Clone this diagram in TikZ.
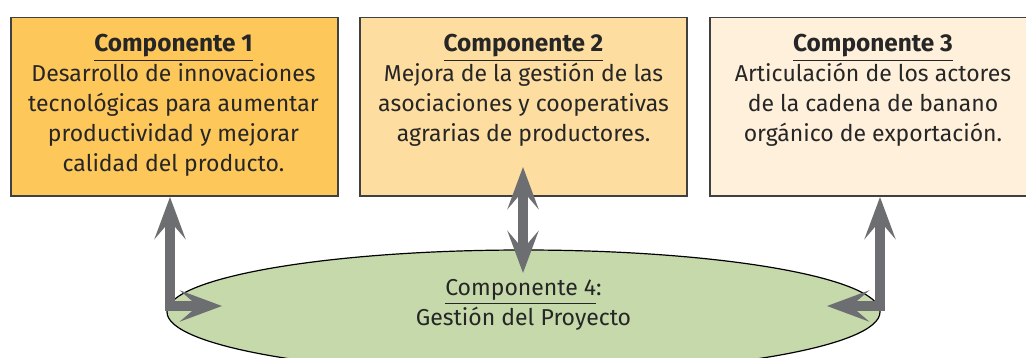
\documentclass[tikz,border=0pt]{standalone}
\usepackage{fontspec}
\setmainfont{Fira Sans}
\usetikzlibrary{arrows.meta,positioning,shapes.geometric}
\definecolor{compone}{HTML}{FDC75A}
\definecolor{comptwo}{HTML}{FDDDA0}
\definecolor{compthree}{HTML}{FEF0DA}
\definecolor{compfour}{HTML}{C6D9AB}
\definecolor{arrgray}{HTML}{6D6E71}
\definecolor{boxline}{HTML}{404040}
\newcommand{\comptitle}[1]{{\fontsize{12.2}{15}\selectfont\bfseries\underline{#1}}}

\begin{document}
\begin{tikzpicture}[x=0.5pt, y=-0.5pt,
    box/.style={draw=boxline, line width=0.75pt, minimum width=163.5pt, minimum height=89pt, inner sep=0pt, anchor=north west},
    txt/.style={align=center, font=\fontsize{11.5}{15}\selectfont, anchor=north, inner sep=0pt, text=black!85},
    arr/.style={draw=arrgray, line width=5pt, {Stealth[length=21pt,width=15.5pt,inset=9pt]}-{Stealth[length=21pt,width=15.5pt,inset=9pt]}}]
    \useasboundingbox (0,0) rectangle (1026,358);
    \clip (0,0) rectangle (1026,358);

    % Componente 4 (elipse)
    \node[draw=black, line width=0.6pt, ellipse, fill=compfour, minimum width=356.5pt, minimum height=62pt, inner sep=0pt] (gest) at (523.5,312) {};
    \node[txt, anchor=center] (gesttxt) at (523.5,305) {\underline{Componente 4}:\\Gestión del Proyecto};

    % Componentes 1-3
    \node[box, fill=compone] (c1) at (10,17) {};
    \node[box, fill=comptwo] (c2) at (359,17) {};
    \node[box, fill=compthree] (c3) at (709,17) {};

    \node[txt] (c1txt) at (173.5,34) {\comptitle{Componente 1}\\Desarrollo de innovaciones\\tecnológicas para aumentar\\productividad y mejorar\\calidad del producto.};
    \node[txt] (c2txt) at (523.5,34) {\comptitle{Componente 2}\\Mejora de la gestión de las\\asociaciones y cooperativas\\agrarias de productores.};
    \node[txt] (c3txt) at (873,34) {\comptitle{Componente 3}\\Articulación de los actores\\de la cadena de banano\\orgánico de exportación.};

    % flechas
    \coordinate (l1) at (170,197);
    \coordinate (l2) at (222,306);
    \coordinate (m1) at (523,167);
    \coordinate (m2) at (523,273);
    \coordinate (r1) at (880,197);
    \coordinate (r2) at (827,306);
    \draw[arr] (l1) |- (l2);
    \draw[arr] (m1) -- (m2);
    \draw[arr] (r1) |- (r2);
\end{tikzpicture}
\end{document}
